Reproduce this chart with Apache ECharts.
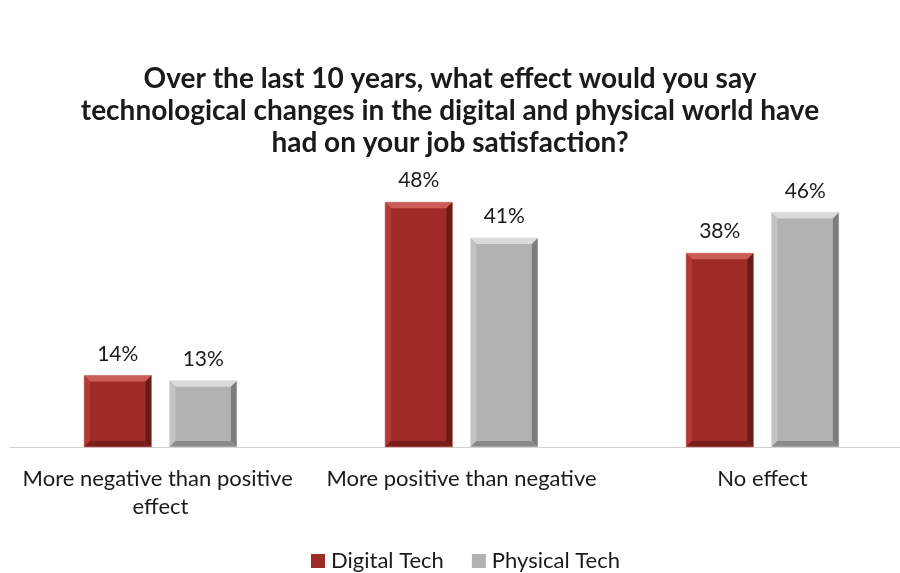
<!DOCTYPE html>
<html>
<head>
<meta charset="utf-8">
<script src="https://cdn.jsdelivr.net/npm/echarts@6/dist/echarts.min.js"></script>
<style>
  html, body { margin: 0; padding: 0; background: #fff; }
  #chart { width: 900px; height: 573px; }
</style>
</head>
<body>
<div id="chart"></div>
<script>
// Survey categories and response shares (%)
const categories = ['More negative than positive effect', 'More positive than negative', 'No effect'];
const digitalTech = [14, 48, 38];
const physicalTech = [13, 41, 46];
const seriesNames = ['Digital Tech', 'Physical Tech'];

const FONT = 'Lato, "Open Sans", sans-serif';

// Bevelled bar palettes: face, top, left, right, bottom
const palettes = [
  { face: '#9f2b26', top: '#cb5d56', left: '#b23a34', right: '#6c1a16', bottom: '#7a1e1a', edge: '#d98984' },
  { face: '#b2b2b2', top: '#dadada', left: '#c3c3c3', right: '#7c7c7c', bottom: '#8a8a8a', edge: '#e4e4e4' }
];

function bevelBar(seriesIdx) {
  const pal = palettes[seriesIdx];
  return function (params, api) {
    const cat = api.value(0);
    const val = api.value(1);
    const band = api.size([1, 0])[0];
    const top = api.coord([cat, val]);
    const base = api.coord([cat, 0]);
    const w = band * 0.224;
    const offset = band * 0.142 * (seriesIdx === 0 ? -1 : 1);
    const cx = top[0] + offset;
    const x0 = cx - w / 2, x1 = cx + w / 2;
    const y0 = top[1], y1 = base[1];
    const b = 6;
    const poly = (pts, fill) => ({ type: 'polygon', shape: { points: pts }, style: { fill: fill } });
    return {
      type: 'group',
      children: [
        { type: 'rect', shape: { x: x0, y: y0, width: w, height: y1 - y0 }, style: { fill: pal.face } },
        poly([[x0, y0], [x1, y0], [x1 - b, y0 + b], [x0 + b, y0 + b]], pal.top),
        poly([[x0, y0], [x0 + b, y0 + b], [x0 + b, y1 - b], [x0, y1]], pal.left),
        poly([[x1, y0], [x1, y1], [x1 - b, y1 - b], [x1 - b, y0 + b]], pal.right),
        poly([[x0, y1], [x0 + b, y1 - b], [x1 - b, y1 - b], [x1, y1]], pal.bottom),
        { type: 'rect', shape: { x: x0, y: y0, width: w, height: y1 - y0 },
          style: { fill: 'none', stroke: pal.edge, lineWidth: 0.6 } },
        { type: 'text', x: cx, y: y0 - 11,
          style: { text: val + '%', fill: '#1a1a1a', font: '21px ' + FONT, align: 'center', verticalAlign: 'bottom' } }
      ]
    };
  };
}

const chart = echarts.init(document.getElementById('chart'), null, { renderer: 'canvas' });
chart.setOption({
  backgroundColor: '#ffffff',
  animation: false,
  title: {
    text: 'Over the last 10 years, what effect would you say\ntechnological changes in the digital and physical world have\nhad on your job satisfaction?',
    left: 'center',
    top: 58,
    textStyle: { fontFamily: FONT, fontWeight: 'bold', fontSize: 28, lineHeight: 32, color: '#1a1a1a' }
  },
  legend: {
    top: 545,
    left: 306,
    itemWidth: 14,
    itemHeight: 14,
    itemGap: 28,
    icon: 'rect',
    textStyle: { fontFamily: FONT, fontSize: 22, color: '#1a1a1a', padding: [0, 0, 0, 1] },
    data: seriesNames
  },
  // plot area runs a little past the right edge of the canvas
  grid: { left: 10, width: 903, top: 141, bottom: 126, outerBoundsMode: 'none', containLabel: false },
  xAxis: {
    type: 'category',
    data: categories,
    axisLine: { lineStyle: { color: '#d0d0d0', width: 1 } },
    axisTick: { show: false },
    axisLabel: {
      interval: 0,
      margin: 18,
      fontFamily: FONT,
      fontSize: 22,
      lineHeight: 28,
      color: '#1a1a1a',
      width: 295,
      overflow: 'break'
    }
  },
  yAxis: {
    type: 'value',
    min: 0,
    max: 60,
    show: false,
    splitLine: { show: false }
  },
  series: [
    {
      name: seriesNames[0],
      type: 'custom',
      renderItem: bevelBar(0),
      itemStyle: { color: palettes[0].face },
      encode: { x: 0, y: 1 },
      data: digitalTech.map((v, i) => [i, v])
    },
    {
      name: seriesNames[1],
      type: 'custom',
      renderItem: bevelBar(1),
      itemStyle: { color: palettes[1].face },
      encode: { x: 0, y: 1 },
      data: physicalTech.map((v, i) => [i, v])
    }
  ]
});
</script>
</body>
</html>
